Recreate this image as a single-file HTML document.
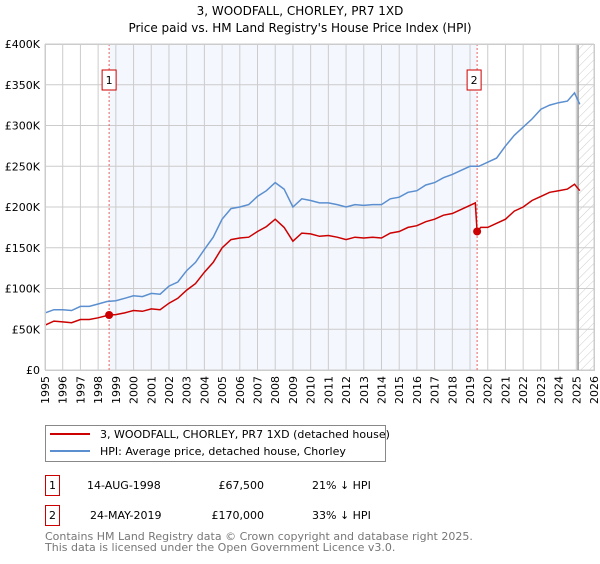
<!DOCTYPE html>
<html><head><meta charset="utf-8"><style>
body{margin:0;background:#fff;font-family:"DejaVu Sans","Liberation Sans",sans-serif;}
svg text{font-family:"DejaVu Sans","Liberation Sans",sans-serif;}
</style></head><body>
<svg id="c" width="600" height="560" xmlns="http://www.w3.org/2000/svg">
<defs><pattern id="hatch" width="6" height="6" patternUnits="userSpaceOnUse" patternTransform="rotate(45)"><line x1="0" y1="0" x2="0" y2="6" stroke="#ccc" stroke-width="1"/></pattern></defs>
<text x="300" y="15" text-anchor="middle" font-size="12">3, WOODFALL, CHORLEY, PR7 1XD</text>
<text x="300" y="32" text-anchor="middle" font-size="12">Price paid vs. HM Land Registry's House Price Index (HPI)</text>
<g id="plot"></g>
<g>
<rect x="45.5" y="425.5" width="340" height="36" fill="#fff" stroke="#888"/>
<line x1="50" y1="434" x2="90" y2="434" stroke="#cc0000" stroke-width="2"/>
<text x="100" y="438" font-size="11">3, WOODFALL, CHORLEY, PR7 1XD (detached house)</text>
<line x1="50" y1="451" x2="90" y2="451" stroke="#5b8fd0" stroke-width="2"/>
<text x="100" y="455" font-size="11">HPI: Average price, detached house, Chorley</text>
</g>
<g font-size="11">
<rect x="45.5" y="475.5" width="14" height="20" fill="#fff" stroke="#cc0000"/>
<text x="52.5" y="489" text-anchor="middle">1</text>
<text x="87" y="489">14-AUG-1998</text>
<text x="264" y="489" text-anchor="end">£67,500</text>
<text x="312" y="489">21% ↓ HPI</text>
<rect x="45.5" y="505.5" width="14" height="20" fill="#fff" stroke="#cc0000"/>
<text x="52.5" y="519" text-anchor="middle">2</text>
<text x="90" y="519">24-MAY-2019</text>
<text x="264" y="519" text-anchor="end">£170,000</text>
<text x="312" y="519">33% ↓ HPI</text>
</g>
<text x="45" y="540" font-size="11" fill="#777">Contains HM Land Registry data © Crown copyright and database right 2025.</text>
<text x="45" y="551" font-size="11" fill="#777">This data is licensed under the Open Government Licence v3.0.</text>
</svg>
<script>
const yearTicks=[1995,1996,1997,1998,1999,2000,2001,2002,2003,2004,2005,2006,2007,2008,2009,2010,2011,2012,2013,2014,2015,2016,2017,2018,2019,2020,2021,2022,2023,2024,2025,2026];
const valueTicks=[0,50,100,150,200,250,300,350,400];
const valueTickLabels=["£0","£50K","£100K","£150K","£200K","£250K","£300K","£350K","£400K"];
const hpiDates=[1995,1995.5,1996,1996.5,1997,1997.5,1998,1998.5,1999,1999.5,2000,2000.5,2001,2001.5,2002,2002.5,2003,2003.5,2004,2004.5,2005,2005.5,2006,2006.5,2007,2007.5,2008,2008.5,2009,2009.5,2010,2010.5,2011,2011.5,2012,2012.5,2013,2013.5,2014,2014.5,2015,2015.5,2016,2016.5,2017,2017.5,2018,2018.5,2019,2019.5,2020,2020.5,2021,2021.5,2022,2022.5,2023,2023.5,2024,2024.5,2024.9,2025.2];
const hpiValues=[70,74,74,73,78,78,81,84,85,88,91,90,94,93,103,108,122,132,148,163,185,198,200,203,213,220,230,222,200,210,208,205,205,203,200,203,202,203,203,210,212,218,220,227,230,236,240,245,250,250,255,260,275,288,298,308,320,325,328,330,340,326];
const priceDates=[1995,1995.5,1996,1996.5,1997,1997.5,1998,1998.62,1999,1999.5,2000,2000.5,2001,2001.5,2002,2002.5,2003,2003.5,2004,2004.5,2005,2005.5,2006,2006.5,2007,2007.5,2008,2008.5,2009,2009.5,2010,2010.5,2011,2011.5,2012,2012.5,2013,2013.5,2014,2014.5,2015,2015.5,2016,2016.5,2017,2017.5,2018,2018.5,2019.3,2019.4,2019.6,2020,2020.5,2021,2021.5,2022,2022.5,2023,2023.5,2024,2024.5,2024.9,2025.2];
const priceValues=[55,60,59,58,62,62,64,67.5,68,70,73,72,75,74,82,88,98,106,120,132,150,160,162,163,170,176,185,175,158,168,167,164,165,163,160,163,162,163,162,168,170,175,177,182,185,190,192,197,205,170,175,175,180,185,195,200,208,213,218,220,222,228,220];
const saleDates=[1998.62,2019.4];
const saleValues=[67.5,170];
const saleLabels=["1","2"];
const dataEnd=2025.1;

const L=45,R=594,T=44,B=370;
const x=d=>L+(d-1995)/(2026-1995)*(R-L);
const y=v=>B-v/400*(B-T);
const ns="http://www.w3.org/2000/svg";
const g=document.getElementById('plot');
function mk(t,a){const e=document.createElementNS(ns,t);for(const k in a)e.setAttribute(k,a[k]);g.appendChild(e);return e;}
let e;
e=mk('rect',{x:L,y:T,width:R-L,height:B-T,fill:'#fff'});


e=mk('rect',{x:x(saleDates[0]),y:T,width:x(saleDates[1])-x(saleDates[0]),height:B-T,fill:'#f4f7fd'});


e=mk('rect',{x:x(dataEnd),y:T,width:R-x(dataEnd),height:B-T,fill:'url(#hatch)'});


yearTicks.forEach(d=>{
 e=mk('line',{x1:x(d),x2:x(d),y1:T,y2:B,stroke:'#ccc','stroke-width':1});
 
 
 e=mk('text',{x:0,y:0,'font-size':11,'text-anchor':'end',transform:`translate(${x(d)+4},${B+6}) rotate(-90)`});
 e.textContent=d;
 
 
});
valueTicks.forEach((v,i)=>{
 e=mk('line',{x1:L,x2:R,y1:y(v),y2:y(v),stroke:'#ccc','stroke-width':1});
 
 
 e=mk('text',{x:40,y:y(v)+4,'font-size':11,'text-anchor':'end'});
 e.textContent=valueTickLabels[i];
 
 
});
e=mk('line',{x1:x(dataEnd),x2:x(dataEnd),y1:T,y2:B,stroke:'#999','stroke-width':1.5});


saleDates.forEach((d,i)=>{
 e=mk('line',{x1:x(d),x2:x(d),y1:T,y2:B,stroke:'#f06060','stroke-width':1,'stroke-dasharray':'2,2'});
 
 
 e=mk('rect',{x:x(d)-7-(i?3:0),y:70,width:14,height:20,fill:'#fff',stroke:'#cc0000'});
 
 
 e=mk('text',{x:x(d)-(i?3:0),y:84,'font-size':11,'text-anchor':'middle'});
 e.textContent=saleLabels[i];
 
 
});
e=mk('path',{d:hpiDates.map((d,i)=>(i?'L':'M')+x(d).toFixed(1)+' '+y(hpiValues[i]).toFixed(1)).join(''),fill:'none',stroke:'#5b8fd0','stroke-width':1.5});


e=mk('path',{d:priceDates.map((d,i)=>(i?'L':'M')+x(d).toFixed(1)+' '+y(priceValues[i]).toFixed(1)).join(''),fill:'none',stroke:'#cc0000','stroke-width':1.5});


saleDates.forEach((d,i)=>{
 e=mk('circle',{cx:x(d),cy:y(saleValues[i]),r:4,fill:'#cc0000'});
 
 
});
e=mk('rect',{x:L+0.5,y:T+0.5,width:R-L,height:B-T,fill:'none',stroke:'#ccc'});


</script>
</body></html>
